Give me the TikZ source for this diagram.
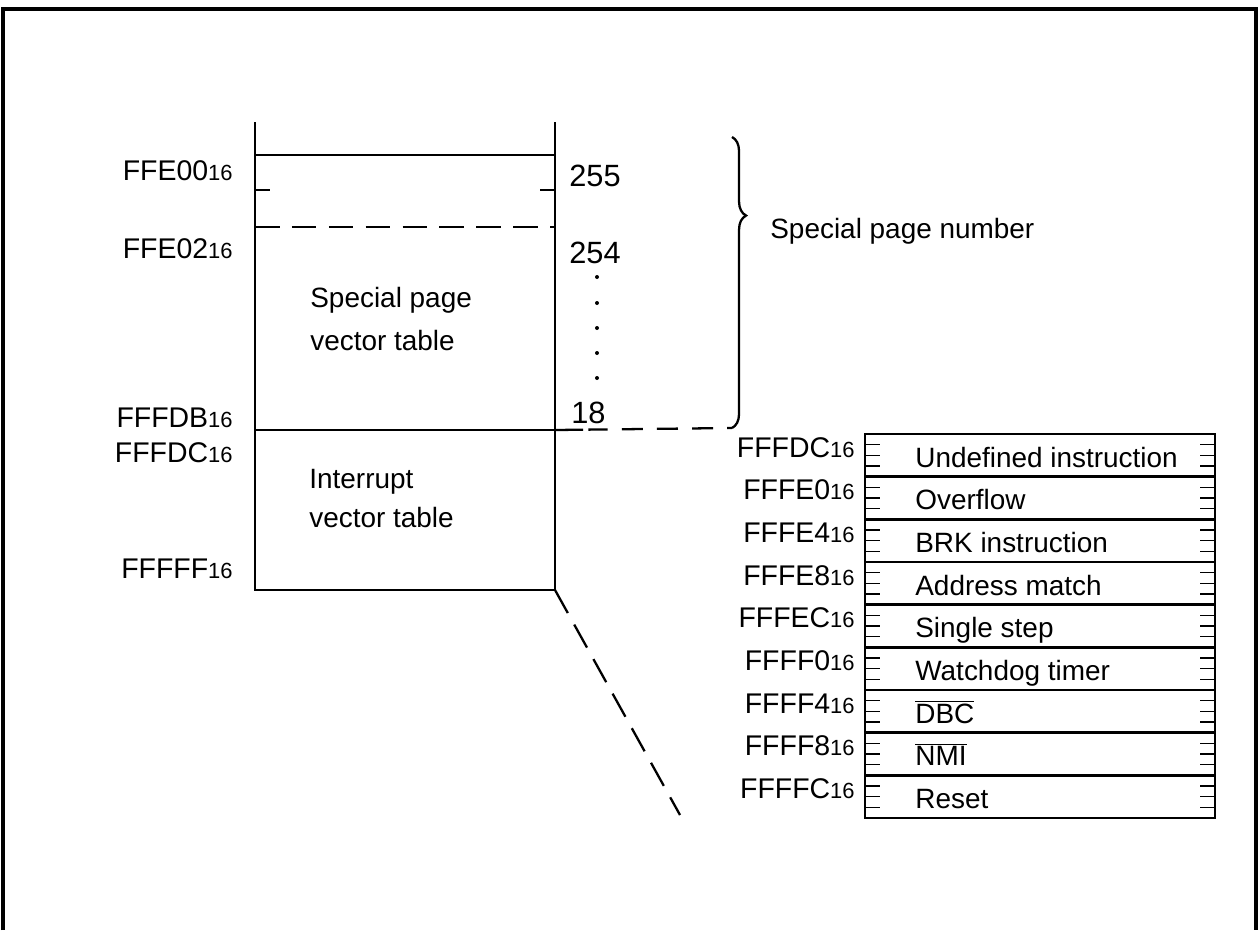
\documentclass[tikz,border=0pt]{standalone}
\usepackage{fontspec}
\setmainfont{Liberation Sans}
\usetikzlibrary{decorations.pathreplacing}

\newcommand{\hexaddr}[1]{#1{\fontsize{12.5}{12.5}\selectfont 16}}

\begin{document}
\begin{tikzpicture}[x=0.02cm,y=-0.02cm,
        addr/.style={anchor=base east,inner sep=0pt,font=\fontsize{16.2}{17}\selectfont},
        txt/.style={anchor=base west,inner sep=0pt,font=\fontsize{15.9}{16}\selectfont},
        num/.style={anchor=base west,inner sep=0pt,font=\fontsize{17.5}{18}\selectfont},
        mapline/.style={line width=1.5pt},
        thinline/.style={line width=0.7pt},
        longdash/.style={line width=1pt,dash pattern=on 14pt off 7pt},
        tick/.style={line width=0.7pt}]
    \useasboundingbox (0,0) rectangle (1260,930);
    % frame, open at the bottom
    \draw[line width=1.8pt] (3,930) -- (3,9) -- (1256,9) -- (1256,930);

    % memory map
    \coordinate (MTL) at (255,122);
    \coordinate (MBL) at (255,590);
    \coordinate (MBR) at (555,590);
    \coordinate (MTR) at (555,122);
    \draw[mapline] (MTL) -- (MBL) -- (MBR) -- (MTR);
    \draw[thinline] (255,155) -- (555,155);
    \draw[thinline] (255,190) -- (270,190);
    \draw[thinline] (540,190) -- (555,190);
    \draw[longdash] (255,227) -- (555,227);
    \draw[thinline] (255,430) -- (555,430);

    \node[addr] (A0) at (233,180) {\hexaddr{FFE00}};
    \node[addr] (A1) at (233,258) {\hexaddr{FFE02}};
    \node[addr] (A2) at (233,427) {\hexaddr{FFFDB}};
    \node[addr] (A3) at (233,462) {\hexaddr{FFFDC}};
    \node[addr] (A4) at (233,578) {\hexaddr{FFFFF}};

    \node[txt] (SP1) at (310,307) {Special page};
    \node[txt] (SP2) at (310,350) {vector table};
    \node[txt] (IV1) at (309,488) {Interrupt};
    \node[txt] (IV2) at (309,527) {vector table};

    % special page numbers
    \node[num] (N255) at (569,186) {255};
    \node[num] (N254) at (569,263) {254};
    \node[num] (N18) at (571,423) {18};
    \foreach \y in {277,303,328,353,378}
        \fill (597,\y) circle (2);

    \coordinate (BT) at (732,137);
    \coordinate (BB) at (732,428);
    \draw[line width=1.3pt,decorate,decoration={brace,amplitude=8pt,aspect=0.27}] (BT) -- (BB);
    \node[txt] (SPN) at (770,238) {Special page number};
    \draw[line width=1.3pt,dash pattern=on 16pt off 3pt on 11pt off 8pt on 12pt off 8pt on 12pt off 8pt on 12pt off 8pt on 14pt off 4pt] (555,430) -- (BB);

    % expansion of the interrupt vector table
    \coordinate (DE) at (680,815);
    \draw[line width=1.3pt,dash pattern=on 15pt off 7.5pt] (MBR) -- (DE);

    \draw[line width=1.6pt] (865,434) rectangle (1215,818);
    \foreach \lbl/\txt [count=\i from 0] in {FFFDC/Undefined instruction,FFFE0/Overflow,FFFE4/BRK instruction,FFFE8/Address match,FFFEC/Single step,FFFF0/Watchdog timer,FFFF4/$\overline{\mbox{DBC}}$,FFFF8/$\overline{\mbox{NMI}}$,FFFFC/Reset}{
        \pgfmathsetmacro\rowtop{434+\i*42.67}
        \node[addr] (R\i) at (855,\rowtop+23) {\hexaddr{\lbl}};
        \node[txt] (T\i) at (915,\rowtop+33) {\txt};
        \ifnum\i>0
            \draw[line width=1.6pt] (865,\rowtop) -- (1215,\rowtop);
        \fi
        \foreach \f in {0.25,0.5,0.75}{
            \draw[tick] (865,\rowtop+\f*42.67) -- (880,\rowtop+\f*42.67);
            \draw[tick] (1200,\rowtop+\f*42.67) -- (1215,\rowtop+\f*42.67);
        }
    }
\end{tikzpicture}
\end{document}
